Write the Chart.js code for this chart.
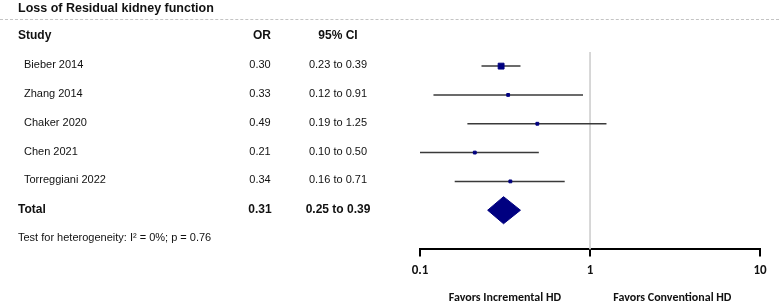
<!DOCTYPE html>
<html>
<head>
<meta charset="utf-8">
<script src="https://cdn.jsdelivr.net/npm/chart.js"></script>
<style>
  body { margin: 0; background: #fff; font-family: 'Liberation Sans', Arial, sans-serif; color: #111; }
  #wrap { position: relative; width: 779px; height: 302px; overflow: hidden; }
  #plot { position: absolute; left: 0; top: 0; }
  .t { position: absolute; white-space: nowrap; line-height: 1; }
  .b { font-weight: bold; }
  .c { transform: translateX(-50%); }
  #title { left: 18px; top: 2px; font-size: 12.5px; font-weight: bold; }
  #dash { position: absolute; left: 0; width: 779px; top: 19px; border-top: 1px dashed #c4c4c4; }
  .fav { font-family: 'Carlito', 'Liberation Sans Narrow', 'Liberation Sans', sans-serif; font-weight: bold; font-size: 12px; }
</style>
</head>
<body>
<div id="wrap">
  <canvas id="plot" width="779" height="302"></canvas>
  <div class="t" id="title">Loss of Residual kidney function</div>
  <div id="dash"></div>
</div>
<script>
// study data
const studies = ['Bieber 2014', 'Zhang 2014', 'Chaker 2020', 'Chen 2021', 'Torreggiani 2022'];
const orValues = [0.30, 0.33, 0.49, 0.21, 0.34];
const ciLow = [0.23, 0.12, 0.19, 0.10, 0.16];
const ciHigh = [0.39, 0.91, 1.25, 0.50, 0.71];

// pooled result
const totalLabel = 'Total';
const totalOR = 0.31;
const totalLow = 0.25;
const totalHigh = 0.39;

const heterogeneityText = 'Test for heterogeneity: I\u00b2 = 0%; p = 0.76';
const tickValues = [0.1, 1, 10];
const favorLabels = ['Favors Incremental HD', 'Favors Conventional HD'];

const fmt = v => v.toFixed(2);
const yMin = -0.49, yMax = 6.36;
const diamondHalf = 0.47;

// CI lines, one dataset per study
const ciSets = studies.map((s, i) => ({
  type: 'line',
  data: [{x: ciLow[i], y: i}, {x: ciHigh[i], y: i}],
  borderColor: '#3a3a3a',
  borderWidth: 1.5,
  pointRadius: 0,
  order: 2
}));

const ty = studies.length;
const ctx = document.getElementById('plot').getContext('2d');
const chart = new Chart(ctx, {
  type: 'scatter',
  data: {
    datasets: [
      {
        label: 'OR',
        data: orValues.map((v, i) => ({x: v, y: i})),
        pointStyle: 'rect',
        backgroundColor: '#000080',
        borderColor: '#000080',
        borderWidth: 1,
        pointRadius: (c) => {
          const w = Math.log10(ciHigh[c.dataIndex] / ciLow[c.dataIndex]);
          return Math.min(4.2, Math.max(2, 0.95 / w));
        },
        order: 0
      },
      {
        type: 'line',
        label: 'Total',
        data: [
          {x: totalLow, y: ty},
          {x: totalOR, y: ty - diamondHalf},
          {x: totalHigh, y: ty},
          {x: totalOR, y: ty + diamondHalf},
          {x: totalLow, y: ty}
        ],
        borderColor: '#000080',
        backgroundColor: '#000080',
        borderWidth: 1,
        fill: 'shape',
        tension: 0,
        pointRadius: 0,
        order: 1
      },
      ...ciSets,
      {
        type: 'line',
        data: [{x: 1, y: yMin}, {x: 1, y: yMax}],
        borderColor: '#d2d2d2',
        borderWidth: 1,
        pointRadius: 0,
        order: 5
      }
    ]
  },
  options: {
    responsive: false,
    animation: false,
    layout: { padding: { left: 420, right: 19, top: 52, bottom: 16 } },
    scales: {
      x: {
        type: 'logarithmic',
        min: 0.1,
        max: 10,
        afterBuildTicks: (scale) => { scale.ticks = tickValues.map(v => ({value: v})); },
        ticks: {
          callback: (v) => String(v),
          color: '#111',
          padding: 7,
          maxRotation: 0,
          autoSkip: false,
          font: { family: "'Carlito', 'Liberation Sans'", size: 13, weight: 'bold' }
        },
        grid: { display: true, drawOnChartArea: false, drawTicks: true, tickLength: 7, color: '#000', lineWidth: 2 },
        border: { display: true, color: '#000', width: 2 }
      },
      y: {
        type: 'linear',
        reverse: true,
        min: yMin,
        max: yMax,
        display: false
      }
    },
    plugins: {
      legend: { display: false },
      tooltip: { enabled: false }
    }
  }
});

// table text aligned to the chart rows
const wrap = document.getElementById('wrap');
function addText(str, x, yc, cls, size) {
  const d = document.createElement('div');
  d.className = 't ' + cls;
  d.textContent = str;
  d.style.left = x + 'px';
  d.style.fontSize = size + 'px';
  wrap.appendChild(d);
  d.style.top = (yc - d.offsetHeight / 2) + 'px';
  return d;
}
const yPix = v => chart.scales.y.getPixelForValue(v) - 1.5;

addText('Study', 18, 35, 'b', 12);
addText('OR', 262, 35, 'b c', 12);
addText('95% CI', 338, 35, 'b c', 12);
studies.forEach((s, i) => {
  addText(s, 24, yPix(i), '', 11);
  addText(fmt(orValues[i]), 260, yPix(i), 'c', 11);
  addText(fmt(ciLow[i]) + ' to ' + fmt(ciHigh[i]), 338, yPix(i), 'c', 11);
});
addText(totalLabel, 18, yPix(ty), 'b', 12);
addText(fmt(totalOR), 260, yPix(ty), 'b c', 12);
addText(fmt(totalLow) + ' to ' + fmt(totalHigh), 338, yPix(ty), 'b c', 12);
addText(heterogeneityText, 18, 237, '', 11);

const xs = chart.scales.x;
const f1 = addText(favorLabels[0], xs.getPixelForValue(0.316), 0, 'fav c', 12);
const f2 = addText(favorLabels[1], xs.getPixelForValue(3.05), 0, 'fav c', 12);
f1.style.top = '291px';
f2.style.top = '291px';
</script>
</body>
</html>
